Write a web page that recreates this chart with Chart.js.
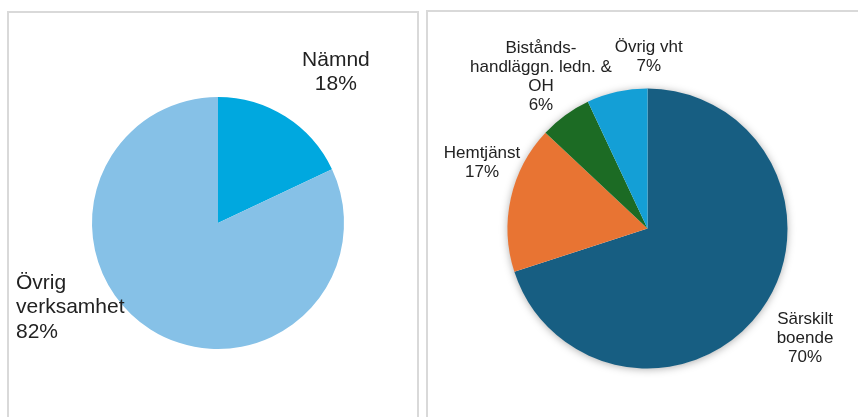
<!DOCTYPE html>
<html>
<head>
<meta charset="utf-8">
<script src="https://cdn.jsdelivr.net/npm/chart.js@4.4.1/dist/chart.umd.min.js"></script>
<style>
  html, body { margin: 0; padding: 0; background: #ffffff; width: 858px; height: 417px; overflow: hidden; }
  .panel { position: absolute; box-sizing: border-box; border: 2px solid #d9d9d9; background: #fff; }
  #p1 { left: 7px; top: 11px; width: 412px; height: 430px; }
  #p2 { left: 426px; top: 10px; width: 450px; height: 430px; }
  canvas { position: absolute; top: 0; }
  #c1 { left: 0; }
  #c2 { left: 423px; }
</style>
</head>
<body>
<div class="panel" id="p1"></div>
<div class="panel" id="p2"></div>
<canvas id="c1" width="423" height="417"></canvas>
<canvas id="c2" width="435" height="417"></canvas>
<script>
// ---- Data ----
const leftCategories = [["Nämnd"], ["Övrig", "verksamhet"]];
const leftValues = [18, 82];
const leftColors = ["#00a8df", "#86c1e7"];

const rightCategories = [["Särskilt", "boende"], ["Hemtjänst"], ["Bistånds-", "handläggn. ledn. &", "OH"], ["Övrig vht"]];
const rightValues = [70, 17, 6, 7];
const rightColors = ["#175e82", "#e87433", "#1c6b24", "#149fd6"];

// ---- Label layout (relative to each arc: angle nudge in degrees from mid-angle, distance as fraction of radius) ----
const leftLabelLayout = [
  { dAngle: 5.3, dist: 1.53, align: "center" },
  { dAngle: 35.3, dist: 1.733, align: "left" }
];
const rightLabelLayout = [
  { dAngle: -1.4, dist: 1.367, align: "center" },
  { dAngle: 9.4, dist: 1.275, align: "center" },
  { dAngle: 1.2, dist: 1.334, align: "center" },
  { dAngle: 13.0, dist: 1.235, align: "center" }
];

function percentText(values, i) {
  const total = values.reduce((a, b) => a + b, 0);
  return Math.round(values[i] / total * 100) + "%";
}

const labelPlugin = {
  id: "outerLabels",
  afterDatasetsDraw(chart, args, opts) {
    const ctx = chart.ctx;
    const meta = chart.getDatasetMeta(0);
    const ds = chart.data.datasets[0];
    ctx.save();
    ctx.fillStyle = opts.color;
    ctx.font = opts.fontSize + "px 'Liberation Sans', Arial, sans-serif";
    ctx.textBaseline = "alphabetic";
    meta.data.forEach((arc, i) => {
      const p = arc.getProps(["x", "y", "startAngle", "endAngle", "outerRadius"], true);
      const lay = opts.layout[i];
      const mid = (p.startAngle + p.endAngle) / 2 + lay.dAngle * Math.PI / 180;
      const ax = p.x + Math.cos(mid) * p.outerRadius * lay.dist;
      const ay = p.y + Math.sin(mid) * p.outerRadius * lay.dist;
      const lines = chart.data.labels[i].concat([percentText(ds.data, i)]);
      const lh = opts.lineHeight;
      ctx.textAlign = lay.align;
      lines.forEach((t, k) => {
        const lineMid = ay - (lines.length * lh) / 2 + (k + 0.5) * lh;
        ctx.fillText(t, ax, lineMid + 0.358 * opts.fontSize);
      });
    });
    ctx.restore();
  }
};

const shadowPlugin = {
  id: "pieShadow",
  beforeDatasetsDraw(chart, args, opts) {
    if (!opts.enabled) return;
    const arc = chart.getDatasetMeta(0).data[0];
    if (!arc) return;
    const p = arc.getProps(["x", "y", "outerRadius"], true);
    const ctx = chart.ctx;
    ctx.save();
    ctx.shadowColor = opts.color;
    ctx.shadowBlur = opts.blur;
    ctx.shadowOffsetX = opts.offsetX;
    ctx.shadowOffsetY = opts.offsetY;
    ctx.fillStyle = "#ffffff";
    ctx.beginPath();
    ctx.arc(p.x, p.y, p.outerRadius - 0.5, 0, Math.PI * 2);
    ctx.fill();
    ctx.restore();
  }
};

function makePie(id, labels, values, colors, radius, padding, layout, fontSize, lineHeight, shadow) {
  return new Chart(document.getElementById(id), {
    type: "pie",
    data: {
      labels: labels,
      datasets: [{
        data: values,
        backgroundColor: colors,
        borderWidth: 0,
        hoverOffset: 0,
        offset: 0
      }]
    },
    options: {
      responsive: false,
      animation: false,
      radius: radius,
      layout: { padding: padding },
      events: [],
      plugins: {
        legend: { display: false },
        tooltip: { enabled: false },
        outerLabels: { layout: layout, fontSize: fontSize, lineHeight: lineHeight, color: "#222222" },
        pieShadow: shadow
      }
    },
    plugins: [shadowPlugin, labelPlugin]
  });
}

makePie("c1", leftCategories, leftValues, leftColors, 126,
  { left: 92, top: 97, right: 79, bottom: 68 },
  leftLabelLayout, 21, 24.7, { enabled: false });

makePie("c2", rightCategories, rightValues, rightColors, 140,
  { left: 84.5, top: 88.5, right: 70.5, bottom: 48.5 },
  rightLabelLayout, 17, 19, { enabled: true, color: "rgba(0,0,0,0.35)", blur: 8, offsetX: 0, offsetY: 1 });
</script>
</body>
</html>
